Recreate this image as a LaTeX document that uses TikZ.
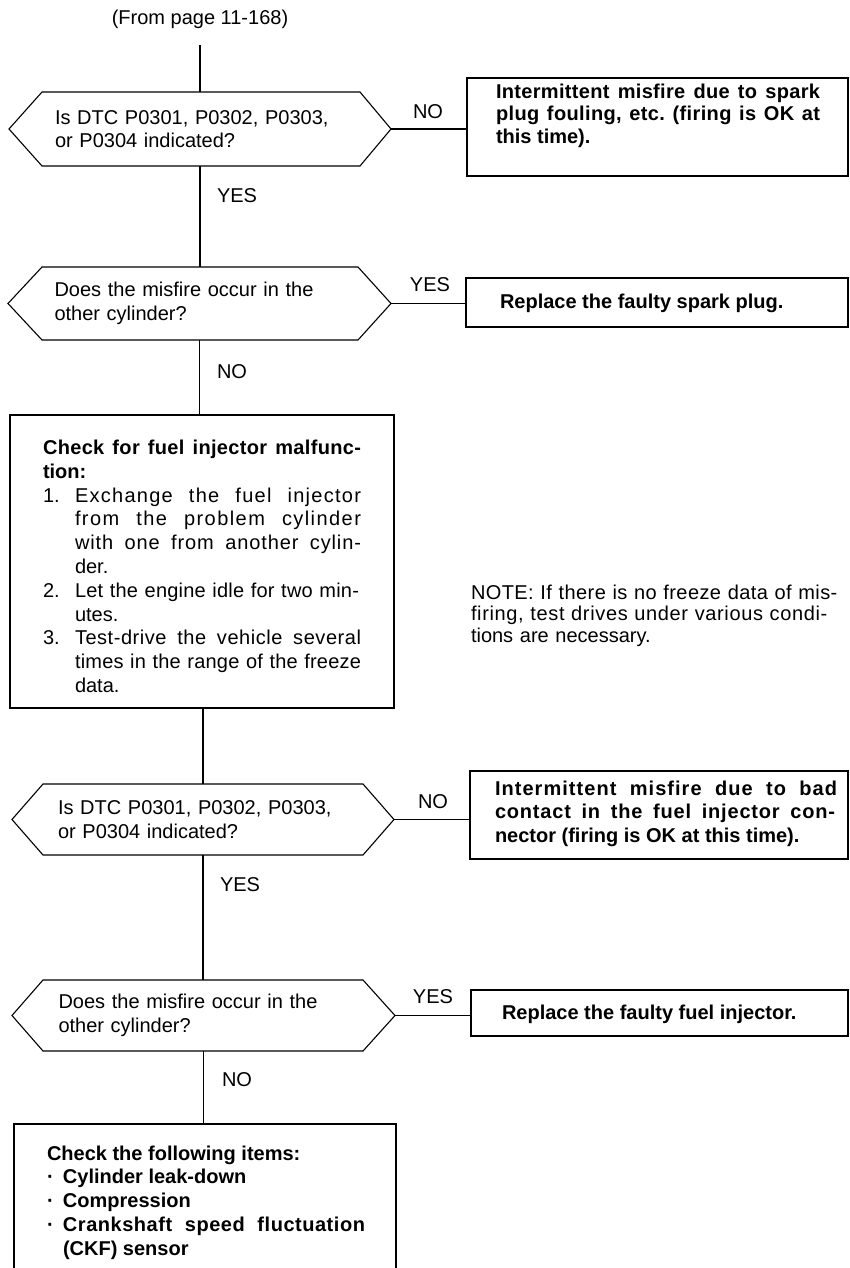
\documentclass[tikz,border=0pt]{standalone}
\usepackage{fontspec}
\setmainfont{Liberation Sans}
\tolerance=10000
\hbadness=10000
\hfuzz=50pt
\hyphenpenalty=10000
\exhyphenpenalty=10000
\frenchspacing
% box text: #1 box width, #2 box height, #3 top pad, #4 left pad, #5 text width, #6 text
\newcommand\bxt[6]{\parbox[t][#2][t]{#1}{\vspace*{#3}\hspace*{#4}\parbox[t]{#5}{\raggedright #6}}}
\newcommand\hexa[3]{\draw ([xshift=#2]#1.north west) -- ([xshift=-#3]#1.north east) -- (#1.east) -- ([xshift=-#3]#1.south east) -- ([xshift=#2]#1.south west) -- (#1.west) -- cycle;}
% justified line: half the slack by letter spacing, half by word spacing; #1 target width, #2 text
\newlength\lsa \newlength\lsb \newlength\lsc
\newcommand\jl[2]{\leavevmode\setlength\lsc{#1}\settowidth\lsa{#2}\settowidth\lsb{\addfontfeature{LetterSpace=10}#2}%
  \edef\lsx{\fpeval{round(5*(\lsc-\lsa)/(\lsb-\lsa),3)}}%
  \hbox to \lsc{\addfontfeature{LetterSpace=\lsx}#2}}
\begin{document}
\begin{tikzpicture}[x=1pt,y=-1pt,line width=1.1pt,
  dec/.style={inner sep=0pt,outer sep=0pt,text width=290pt,align=left,font=\fontsize{20}{23.5}\selectfont},
  bx/.style={draw,inner sep=0pt,outer sep=0pt,anchor=north west,font=\fontsize{20}{23.5}\selectfont\bfseries},
  lab/.style={inner sep=0pt,outer sep=0pt,font=\fontsize{20}{23.5}\selectfont},
  conn/.style={line width=1.1pt}]
\fill[white] (0,0) rectangle (849,1268);
\useasboundingbox (0,0) rectangle (849,1268);

% title
\node[lab] (title) at (200,19) {(From page 11-168)};
\coordinate (t0) at (200,45);

% decisions
\node[dec,minimum width=382pt,minimum height=74pt] (d1) at (200,129) {Is DTC P0301, P0302, P0303,\\or P0304 indicated?};
\hexa{d1}{33pt}{31pt}
\node[dec,minimum width=383pt,minimum height=73pt] (d2) at (199.5,303.5) {Does the misfire occur in the\\other cylinder?};
\hexa{d2}{34pt}{33pt}
\node[dec,minimum width=382pt,minimum height=71pt] (d3) at (203,819.5) {Is DTC P0301, P0302, P0303,\\or P0304 indicated?};
\hexa{d3}{31pt}{31pt}
\node[dec,minimum width=383pt,minimum height=71pt] (d4) at (203.5,1015.5) {Does the misfire occur in the\\other cylinder?};
\hexa{d4}{31pt}{32pt}

% boxes
\node[bx] (b1) at (467,78) {\bxt{381pt}{98pt}{6pt}{29pt}{330pt}{\fontsize{20}{22.5}\selectfont
  \jl{324pt}{Intermittent misfire due to spark}\\
  \jl{324pt}{plug fouling, etc. (firing is OK at}\\
  this time).}};
\node[bx] (b2) at (466,278) {\bxt{382pt}{49pt}{16pt}{34pt}{330pt}{Replace the faulty spark plug.}};
\node[bx] (b3) at (10,415) {\bxt{384pt}{293pt}{25pt}{33pt}{330pt}{\fontsize{20}{23.8}\selectfont
  \jl{318pt}{Check for fuel injector malfunc-}\\
  tion:\\
  \mdseries
  \makebox[32pt][l]{1.}\jl{286pt}{Exchange the fuel injector}\\
  \hspace*{32pt}\jl{286pt}{from the problem cylinder}\\
  \hspace*{32pt}\jl{286pt}{with one from another cylin-}\\
  \hspace*{32pt}der.\\
  \makebox[32pt][l]{2.}\jl{284pt}{Let the engine idle for two min-}\\
  \hspace*{32pt}utes.\\
  \makebox[32pt][l]{3.}\jl{286pt}{Test-drive the vehicle several}\\
  \hspace*{32pt}\jl{286pt}{times in the range of the freeze}\\
  \hspace*{32pt}data.}};
\node[bx] (b4) at (470,771) {\bxt{378pt}{88pt}{9.5pt}{25pt}{345pt}{
  \jl{342pt}{Intermittent misfire due to bad}\\
  \jl{340pt}{contact in the fuel injector con-}\\
  nector (firing is OK at this time).}};
\node[bx] (b5) at (471,990) {\bxt{377pt}{46pt}{15pt}{31pt}{330pt}{Replace the faulty fuel injector.}};
\node[bx] (b6) at (14,1124) {\bxt{382pt}{160pt}{21.5pt}{33pt}{330pt}{\fontsize{20}{23.75}\selectfont
  Check the following items:\\
  \makebox[16pt][l]{·}Cylinder leak-down\\
  \makebox[16pt][l]{·}Compression\\
  \makebox[16pt][l]{·}\jl{302pt}{Crankshaft speed fluctuation}\\
  \hspace*{16pt}(CKF) sensor}};

% note
\node[inner sep=0pt,outer sep=0pt,anchor=north west,text width=380pt,align=left,font=\fontsize{20}{21.5}\selectfont] (note) at (471,585) {\jl{376pt}{NOTE: If there is no freeze data of mis-}\\\jl{375pt}{firing, test drives under various condi-}\\tions are necessary.};

% connectors
\draw[conn] (t0) -- (t0 |- d1.north);
\draw[conn] (d1.south) -- (d1.south |- d2.north);
\draw[conn] (d2.south) -- (d2.south |- b3.north);
\draw[conn] (b3.south -| d3.north) -- (d3.north);
\draw[conn] (d3.south) -- (d3.south |- d4.north);
\draw[conn] (d4.south) -- (d4.south |- b6.north);
\draw[conn] (d1.east) -- (d1.east -| b1.west);
\draw[conn] (d2.east) -- (d2.east -| b2.west);
\draw[conn] (d3.east) -- (d3.east -| b4.west);
\draw[conn] (d4.east) -- (d4.east -| b5.west);

% labels
\node[lab] (l1) at (428,112) {NO};
\node[lab,anchor=west] (l2) at (217,196) {YES};
\node[lab] (l3) at (430,285) {YES};
\node[lab,anchor=west] (l4) at (217,372) {NO};
\node[lab] (l5) at (433,802) {NO};
\node[lab,anchor=west] (l6) at (220,885) {YES};
\node[lab] (l7) at (433,997) {YES};
\node[lab,anchor=west] (l8) at (222,1080) {NO};
\end{tikzpicture}
\end{document}
